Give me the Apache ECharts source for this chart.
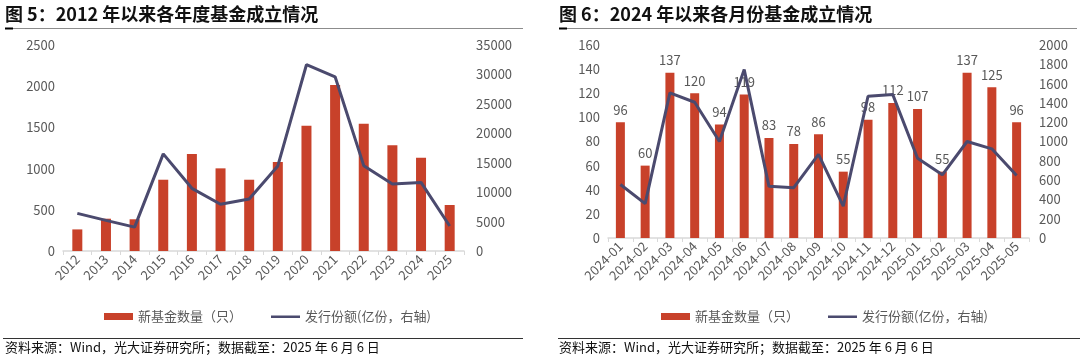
<!DOCTYPE html>
<html><head><meta charset="utf-8">
<script src="https://cdn.jsdelivr.net/npm/echarts@6/dist/echarts.min.js"></script>
<style>html,body{margin:0;padding:0;background:#fff}#c{width:1080px;height:358px}</style>
</head><body><div id="c"></div>
<script>
// Left chart: yearly
const years = ['2012','2013','2014','2015','2016','2017','2018','2019','2020','2021','2022','2023','2024','2025'];
const yearCount = [262, 392, 385, 865, 1177, 1003, 865, 1080, 1520, 2014, 1545, 1282, 1132, 558];
const yearShare = [6400, 5200, 4050, 16500, 10650, 7950, 8850, 14450, 31650, 29600, 14500, 11400, 11650, 4250];
// Right chart: monthly
const months = ['2024-01','2024-02','2024-03','2024-04','2024-05','2024-06','2024-07','2024-08','2024-09','2024-10','2024-11','2024-12','2025-01','2025-02','2025-03','2025-04','2025-05'];
const monthCount = [96, 60, 137, 120, 94, 119, 83, 78, 86, 55, 98, 112, 107, 55, 137, 125, 96];
const monthShare = [555, 356, 1504, 1407, 1000, 1745, 535, 521, 866, 331, 1469, 1486, 827, 655, 1000, 924, 648];

const countName = '新基金数量（只）';
const shareName = '发行份额(亿份，右轴)';
const FONT = '"Noto Sans CJK SC","Noto Sans",sans-serif';
const GRAY = '#595959';
const BAR = '#C8412A';
const LINE = '#4B4A6E';
const LINE_ICON = 'path://M0,0 L29,0 L29,0 Z M0,2.5 L29,2.5 L29,5 L0,5 Z M0,7 L29,7 L29,7 Z';

const chart = echarts.init(document.getElementById('c'), null, {renderer:'canvas'});
const plain = (v) => String(v);
const xAxisBase = {
  type:'category', boundaryGap:true,
  axisLine:{lineStyle:{color:'#d9d9d9', width:1.5}},
  axisTick:{show:true, lineStyle:{color:'#d9d9d9'}, length:4},
  axisLabel:{rotate:45, color:GRAY, fontSize:13, fontFamily:FONT, margin:6, interval:0}
};
const yBase = {
  type:'value', axisLine:{show:false}, axisTick:{show:false}, splitLine:{show:false},
  axisLabel:{color:GRAY, fontSize:13, fontFamily:FONT, formatter:plain}
};
chart.setOption({
  animation:false,
  textStyle:{fontFamily:FONT},
  grid:[
    {left:63, right:616, top:45, bottom:107},
    {left:608, right:51, top:45, bottom:120}
  ],
  legend:[
    {left:99, top:305, itemWidth:29, itemHeight:7, itemGap:29,
     data:[{name:countName, icon:'rect'}, {name:shareName, icon:LINE_ICON, itemStyle:{color:LINE, borderWidth:0}, lineStyle:{width:0}}],
     textStyle:{color:GRAY, fontSize:13, fontFamily:FONT}},
    {left:656, top:305, itemWidth:29, itemHeight:7, itemGap:29,
     data:[{name:countName+' ', icon:'rect'}, {name:shareName+' ', icon:LINE_ICON, itemStyle:{color:LINE, borderWidth:0}, lineStyle:{width:0}}],
     textStyle:{color:GRAY, fontSize:13, fontFamily:FONT}, formatter:(n)=>n.trim()}
  ],
  xAxis:[
    Object.assign({gridIndex:0, data:years}, xAxisBase),
    Object.assign({gridIndex:1, data:months}, xAxisBase)
  ],
  yAxis:[
    Object.assign({gridIndex:0, min:0, max:2500, interval:500, position:'left'}, yBase),
    Object.assign({gridIndex:0, min:0, max:35000, interval:5000, position:'right'}, yBase, {axisLabel:{color:GRAY, fontSize:13, fontFamily:FONT, margin:12, formatter:plain}}),
    Object.assign({gridIndex:1, min:0, max:160, interval:20, position:'left'}, yBase),
    Object.assign({gridIndex:1, min:0, max:2000, interval:200, position:'right'}, yBase, {axisLabel:{color:GRAY, fontSize:13, fontFamily:FONT, margin:10, formatter:plain}})
  ],
  series:[
    {name:countName, type:'bar', xAxisIndex:0, yAxisIndex:0, data:yearCount, barWidth:10, itemStyle:{color:BAR}},
    {name:shareName, type:'line', xAxisIndex:0, yAxisIndex:1, data:yearShare, symbol:'none', lineStyle:{color:LINE, width:3}, itemStyle:{color:LINE}, z:5},
    {name:countName+' ', type:'bar', xAxisIndex:1, yAxisIndex:2, data:monthCount, barWidth:9, itemStyle:{color:BAR},
     label:{show:true, position:'top', color:GRAY, fontSize:13, fontFamily:FONT, distance:6}},
    {name:shareName+' ', type:'line', xAxisIndex:1, yAxisIndex:3, data:monthShare, symbol:'none', lineStyle:{color:LINE, width:3}, itemStyle:{color:LINE}, z:5}
  ],
  graphic:[
    {type:'text', left:5, top:5, style:{text:'图 5：2012 年以来各年度基金成立情况', font:'bold 18px '+FONT, fill:'#111'}},
    {type:'text', left:559, top:5, style:{text:'图 6：2024 年以来各月份基金成立情况', font:'bold 18px '+FONT, fill:'#111'}},
    {type:'line', shape:{x1:5, y1:28.5, x2:523, y2:28.5}, style:{stroke:'#8c8c8c', lineWidth:1}},
    {type:'line', shape:{x1:5, y1:28.5, x2:13, y2:28.5}, style:{stroke:'#000', lineWidth:2}},
    {type:'line', shape:{x1:559, y1:28.5, x2:1077, y2:28.5}, style:{stroke:'#8c8c8c', lineWidth:1}},
    {type:'line', shape:{x1:559, y1:28.5, x2:567, y2:28.5}, style:{stroke:'#000', lineWidth:2}},
    {type:'line', shape:{x1:3, y1:338.5, x2:523, y2:338.5}, style:{stroke:'#333', lineWidth:1.2}},
    {type:'line', shape:{x1:558, y1:338.5, x2:1080, y2:338.5}, style:{stroke:'#333', lineWidth:1.2}},
    {type:'text', left:5, top:341, style:{text:'资料来源：Wind，光大证券研究所；数据截至：2025 年 6 月 6 日', font:'13px '+FONT, fill:'#111'}},
    {type:'text', left:559, top:341, style:{text:'资料来源：Wind，光大证券研究所；数据截至：2025 年 6 月 6 日', font:'13px '+FONT, fill:'#111'}}
  ]
});
</script></body></html>
